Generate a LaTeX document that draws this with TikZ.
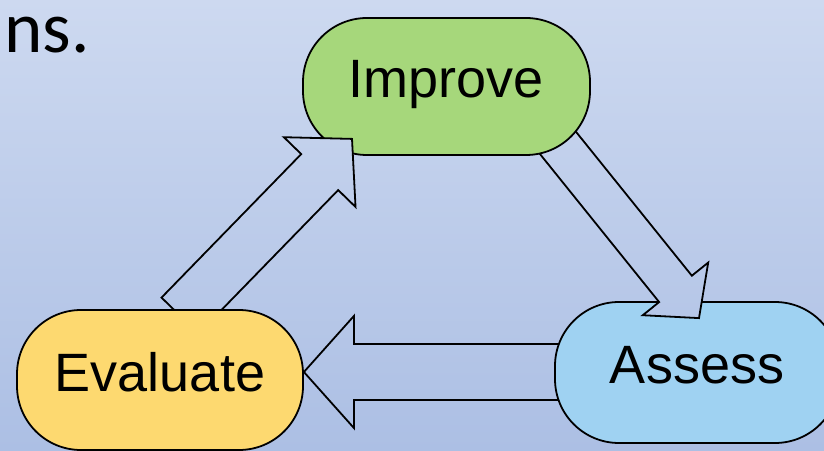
\documentclass[tikz,border=0pt]{standalone}
\usepackage{fontspec}
\setmainfont{Liberation Sans}
\newfontfamily\slidefont{Carlito}
\usepackage{xcolor}
\usetikzlibrary{calc}
\pgfdeclarelayer{background}
\pgfdeclarelayer{assesslayer}
\pgfdeclarelayer{downarrow}
\pgfdeclarelayer{improvelayer}
\pgfdeclarelayer{uparrow}
\pgfsetlayers{background,assesslayer,downarrow,improvelayer,uparrow,main}

\definecolor{bgtop}{HTML}{CDD9F0}
\definecolor{bgbot}{HTML}{ACBFE4}
\definecolor{improvegreen}{HTML}{A6D77B}
\definecolor{evalyellow}{HTML}{FDD970}
\definecolor{assessblue}{HTML}{9FD2F2}

% hollow block arrow: tail, tip, half shaft, half head, head length
\newcommand{\blockarrow}[5]{%
  \coordinate (hb) at ($(#2)!#5!(#1)$);
  \def\arrowoutline{($(#1)!#3!90:(#2)$) -- ($(hb)!#3!90:(#2)$) -- ($(hb)!#4!90:(#2)$) -- (#2)
    -- ($(hb)!#4!-90:(#2)$) -- ($(hb)!#3!-90:(#2)$) -- ($(#1)!#3!-90:(#2)$) -- cycle}
  \begin{scope}
    \clip \arrowoutline;
    \shade[bgshade] (bg.south west) rectangle (bg.north east);
  \end{scope}
  \draw[hollow] \arrowoutline;
}

\begin{document}
\begin{tikzpicture}
        [
        x=1pt, y=1pt,
        stage/.style = {draw=black, line width=1.8pt, rounded corners=64pt, inner sep=0pt,
                        font=\fontsize{54}{60}\selectfont, text height=40pt, text depth=18pt},
        hollow/.style = {draw=black, line width=1.8pt},
        bgshade/.style = {top color=bgtop, bottom color=bgbot}
        ]
    \useasboundingbox (0,0) rectangle (824,450);
    \begin{pgfonlayer}{background}
        \node[bgshade, minimum width=824pt, minimum height=450pt, inner sep=0pt, outer sep=0pt] (bg) at (412,225) {};
    \end{pgfonlayer}
    \node[anchor=base west, inner sep=0pt, text height=36pt, font=\slidefont\fontsize{73}{80}\selectfont] (ns) at (4,397) {ns.};

    \begin{pgfonlayer}{improvelayer}
        \node[stage, fill=improvegreen, minimum width=287pt, minimum height=137pt] (improve) at (446.5,363.5) {Improve};
    \end{pgfonlayer}
    \begin{pgfonlayer}{assesslayer}
        \node[stage, fill=assessblue, minimum width=284pt, minimum height=141pt] (assess) at (697,77.5) {Assess};
    \end{pgfonlayer}
    \node[stage, fill=evalyellow, minimum width=286pt, minimum height=140pt] (evaluate) at (160,70) {Evaluate};

    \coordinate (uptail) at ($(evaluate.north)+(20,-6.5)$);
    \coordinate (uptip) at ($(improve.south)+(-94.5,17)$);
    \coordinate (downtail) at ($(improve.center)+(103.5,-46.5)$);
    \coordinate (downtip) at ($(assess.north)+(2,-17)$);
    \coordinate (backtail) at ($(assess.center)+(-97,0.5)$);
    \coordinate (backtip) at ($(evaluate.east)+(0,8)$);

    \begin{pgfonlayer}{background}
        \blockarrow{backtail}{backtip}{28pt}{56pt}{50pt}
    \end{pgfonlayer}
    \begin{pgfonlayer}{downarrow}
        \blockarrow{downtail}{downtip}{21pt}{42pt}{37.5pt}
    \end{pgfonlayer}
    \begin{pgfonlayer}{uparrow}
        \blockarrow{uptail}{uptip}{25.8pt}{50pt}{46.3pt}
    \end{pgfonlayer}
    \end{tikzpicture}
\end{document}
